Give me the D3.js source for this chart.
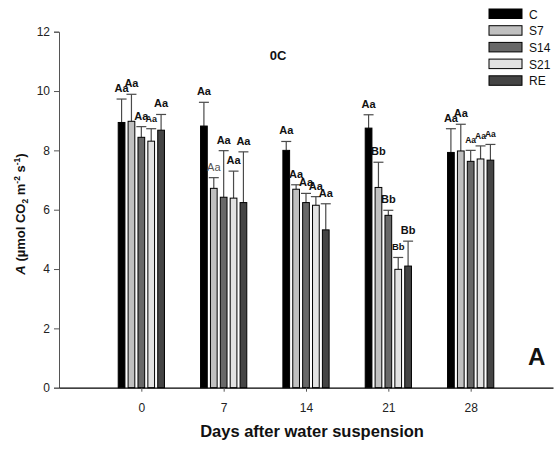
<!DOCTYPE html>
<html><head><meta charset="utf-8">
<script src="https://cdn.jsdelivr.net/npm/d3@7"></script>
<style>body{margin:0;background:#fff}svg{display:block}text{font-family:"Liberation Sans",Arial,sans-serif}</style>
</head><body><svg id="c" width="558" height="450"></svg>
<script>
const days = [0, 7, 14, 21, 28];
const series = ["C", "S7", "S14", "S21", "RE"];
const meanC   = [8.94, 8.82, 8.00, 8.75, 7.93];
const meanS7  = [8.98, 6.72, 6.69, 6.75, 7.98];
const meanS14 = [8.44, 6.42, 6.24, 5.81, 7.63];
const meanS21 = [8.31, 6.39, 6.15, 3.99, 7.71];
const meanRE  = [8.68, 6.24, 5.32, 4.10, 7.67];
const errC    = [0.79, 0.80, 0.30, 0.45, 0.80];
const errS7   = [0.91, 0.36, 0.15, 0.85, 0.90];
const errS14  = [0.36, 1.57, 0.31, 0.17, 0.37];
const errS21  = [0.42, 0.91, 0.29, 0.40, 0.44];
const errRE   = [0.53, 1.71, 0.88, 0.84, 0.53];
const labC    = ["Aa", "Aa", "Aa", "Aa", "Aa"];
const labS7   = ["Aa", "Aa", "Aa", "Bb", "Aa"];
const labS14  = ["Aa", "Aa", "Aa", "Bb", "Aa"];
const labS21  = ["Aa", "Aa", "Aa", "Bb", "Aa"];
const labRE   = ["Aa", "Aa", "Aa", "Bb", "Aa"];
const yTicks = [0, 2, 4, 6, 8, 10, 12];

const means = [meanC, meanS7, meanS14, meanS21, meanRE];
const errs = [errC, errS7, errS14, errS21, errRE];
const labs = [labC, labS7, labS14, labS21, labRE];
const fills = ["#000000", "#c0c0c0", "#686868", "#e2e2e2", "#444444"];
const labStyle = (si, gi) => {
  if (gi === 0 && si === 3) return [9, "bold"];
  if (gi === 1 && si === 1) return [11, "normal"];
  if (gi === 3 && si === 3) return [9.5, "bold"];
  if (gi === 4 && si >= 2) return [8.5, "bold"];
  return [11, "bold"];
};

const svg = d3.select("#c");
const x = d3.scaleLinear().domain([-7, 35]).range([59, 553]);
const y = d3.scaleLinear().domain([0, 12]).range([387.7, 31.7]);
const inner = d3.scaleBand().domain(series).range([-2.1, 2.1]).paddingInner(0.32).paddingOuter(0.16);
const pxw = v => x(v) - x(0);

const data = [];
days.forEach((d, gi) => series.forEach((s, si) => {
  data.push({d, gi, si, s, v: means[si][gi], e: errs[si][gi], lab: labs[si][gi]});
}));

const g = svg.append("g");
const bx = p => x(p.d + inner(p.s));
const bw = pxw(inner.bandwidth());

g.selectAll("line.err").data(data).join("line")
  .attr("x1", p => bx(p) + bw / 2).attr("x2", p => bx(p) + bw / 2)
  .attr("y1", p => y(p.v)).attr("y2", p => y(p.v + p.e))
  .attr("stroke", "#4a4a4a").attr("stroke-width", 1.2);
g.selectAll("line.cap").data(data).join("line")
  .attr("x1", p => bx(p) + bw / 2 - 5).attr("x2", p => bx(p) + bw / 2 + 5)
  .attr("y1", p => y(p.v + p.e)).attr("y2", p => y(p.v + p.e))
  .attr("stroke", "#4a4a4a").attr("stroke-width", 1.2);

g.selectAll("rect.bar").data(data).join("rect")
  .attr("x", p => bx(p)).attr("width", bw)
  .attr("y", p => y(p.v)).attr("height", p => y(0) - y(p.v))
  .attr("fill", p => fills[p.si]).attr("stroke", "#000").attr("stroke-width", 1);

g.selectAll("text.lab").data(data).join("text")
  .attr("x", p => bx(p) + bw / 2).attr("y", p => y(p.v + p.e) - 7)
  .attr("text-anchor", "middle")
  .attr("font-size", p => labStyle(p.si, p.gi)[0])
  .attr("font-weight", p => labStyle(p.si, p.gi)[1])
  .attr("fill", p => labStyle(p.si, p.gi)[1] === "normal" ? "#555" : "#111")
  .text(p => p.lab);

const yAxis = svg.append("g").attr("transform", `translate(59,0)`)
  .call(d3.axisLeft(y).tickValues(yTicks).tickSize(5).tickPadding(4));
yAxis.select(".domain").attr("stroke", "#555");
yAxis.selectAll(".tick line").attr("stroke", "#555");
yAxis.selectAll("text").attr("font-size", 12).attr("fill", "#222")
  .attr("font-family", "Liberation Sans, Arial, sans-serif");

const xAxis = svg.append("g").attr("transform", `translate(0,${y(0)})`)
  .call(d3.axisBottom(x).tickValues(days).tickSize(4).tickPadding(12).tickSizeOuter(0));
xAxis.select(".domain").attr("stroke", "#000").attr("stroke-width", 1.2);
xAxis.selectAll(".tick line").attr("stroke", "#555");
xAxis.selectAll("text").attr("font-size", 12).attr("fill", "#222")
  .attr("font-family", "Liberation Sans, Arial, sans-serif");

svg.append("text").attr("x", 312).attr("y", 437).attr("text-anchor", "middle")
  .attr("font-size", 16.5).attr("font-weight", "bold").attr("fill", "#111")
  .text("Days after water suspension");

const yt = svg.append("text").attr("transform", "translate(25,214) rotate(-90)")
  .attr("text-anchor", "middle").attr("font-size", 13).attr("font-weight", "bold").attr("fill", "#111");
yt.append("tspan").attr("font-style", "italic").text("A");
yt.append("tspan").text(" (µmol CO");
yt.append("tspan").attr("font-size", 8.5).attr("dy", 3).text("2");
yt.append("tspan").attr("dy", -3).text(" m");
yt.append("tspan").attr("font-size", 8.5).attr("dy", -5).text("-2");
yt.append("tspan").attr("dy", 5).text(" s");
yt.append("tspan").attr("font-size", 8.5).attr("dy", -5).text("-1");
yt.append("tspan").attr("dy", 5).text(")");

svg.append("text").attr("x", 278).attr("y", 60).attr("text-anchor", "middle")
  .attr("font-size", 13).attr("font-weight", "bold").attr("fill", "#111").text("0C");

svg.append("text").attr("x", 528).attr("y", 365)
  .attr("font-size", 24).attr("font-weight", "bold").attr("fill", "#111").text("A");

const lg = svg.append("g").attr("transform", "translate(489,9)");
series.forEach((s, i) => {
  lg.append("rect").attr("x", 0).attr("y", i * 16.7).attr("width", 33).attr("height", 9.5)
    .attr("fill", fills[i]).attr("stroke", "#000").attr("stroke-width", 1);
  lg.append("text").attr("x", 40).attr("y", i * 16.7 + 9.5)
    .attr("font-size", 12).attr("fill", "#111").text(s);
});
</script></body></html>
